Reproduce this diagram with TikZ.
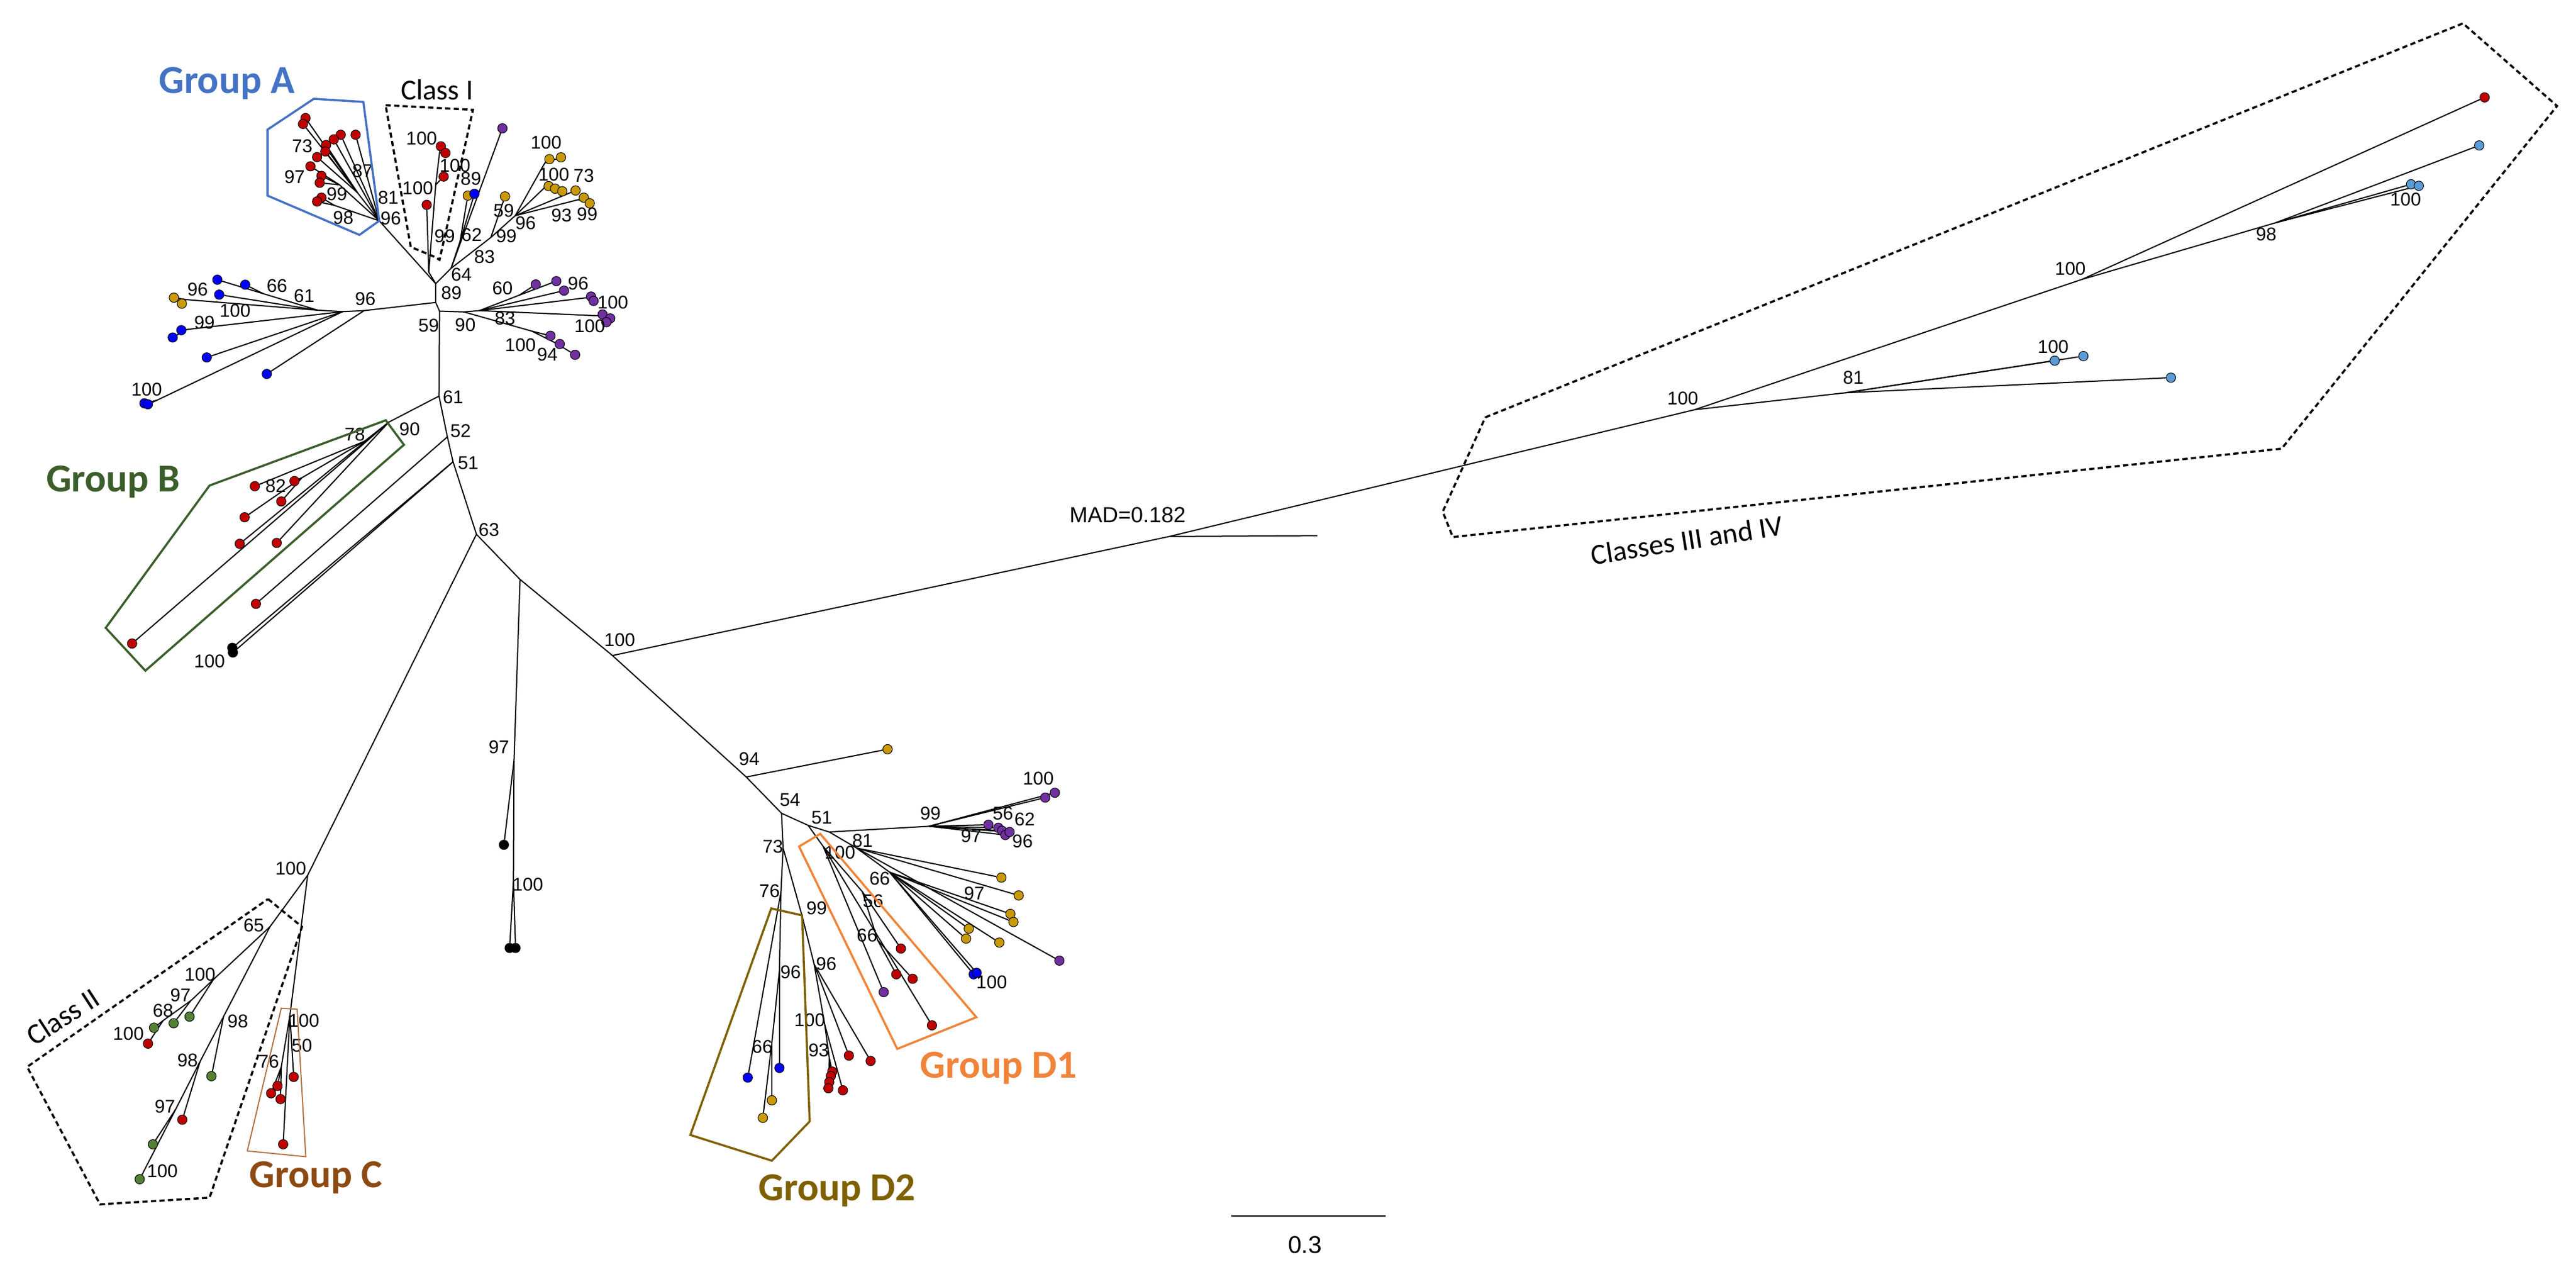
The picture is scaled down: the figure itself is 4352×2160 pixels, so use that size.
\documentclass[tikz,border=0pt]{standalone}
\usepackage{fontspec}
\setmainfont{Liberation Sans}
\newfontfamily\carlfont{Carlito}
\usetikzlibrary{backgrounds}
\definecolor{cred}{HTML}{C00000}
\definecolor{cblue}{HTML}{0000FF}
\definecolor{cgold}{HTML}{C99A06}
\definecolor{cpurp}{HTML}{7030A0}
\definecolor{cgreen}{HTML}{548235}
\definecolor{clblue}{HTML}{5B9BD5}
\definecolor{cblack}{HTML}{000000}
\definecolor{grpA}{HTML}{4472C4}
\definecolor{grpB}{HTML}{3B5E2B}
\definecolor{grpC}{HTML}{8C4A12}
\definecolor{grpCl}{HTML}{B5703E}
\definecolor{grpD1}{HTML}{F0843A}
\definecolor{grpD2}{HTML}{7F6000}
\tikzset{
  tree/.style={line width=0.5pt,black},
  dot/.style={circle,draw=black,line width=0.25pt,inner sep=0pt,minimum size=4pt,fill=#1},
  lbl/.style={font=\fontsize{7.8}{8}\selectfont,inner sep=0pt},
  grp/.style={font=\carlfont\bfseries\fontsize{16.75}{17}\selectfont,text=#1,inner sep=0pt},
  cls/.style={font=\carlfont\fontsize{12.25}{13}\selectfont,inner sep=0pt},
  hull/.style={line width=0.9pt,draw=#1,line join=miter},
  dhull/.style={line width=0.9pt,draw=black,dash pattern=on 2.2pt off 1.4pt}
}
\begin{document}
\begin{tikzpicture}[x=0.25pt,y=-0.25pt]
\useasboundingbox (0,0) rectangle (4352,2160);
% internal nodes
\foreach \n/\x/\y in {N89/736.1/479.1, Nleft/736.1/510.8, Nlow/742.6/525.5,
  gA/640.7/372.9, a1/603.8/325.2, a2/573.5/312.1, a3/564.8/346.8,
  c0/724.4/459.6, c3/736.1/312.1, c2/742.6/257.9,
  n64/762.1/453.1, n62/777.3/407.5, y0/829.3/401, y1/870.5/364.2,
  ya/920.4/275.3, yb/920.4/316.5, yc/976.8/337.3,
  b96/615.2/524.6, b61a/578.9/526.3, b61/536.8/523.9, b66/444.9/496,
  b100/265/676, b99/314.8/556.6, y96/314.8/506,
  p0/783.8/526.8, p1/809.8/524.6, p2/898.7/559.3, p3/937.8/578.9,
  p4/877/498.6, p5/989.8/503, p6/1011.5/533.3,
  n61/741.7/668.9, n52/755.8/737.8, n51b/765.4/779.9, n63/804.9/902.3,
  n90/656.9/712.9, n78/615.5/745.4, n82/510.2/806.7,
  n1/878.6/978.6, k97/868.4/1284.7, k100/867.4/1489,
  n100/1034.7/1107.1, madn/1975.5/906, madend/2225.5/904.6,
  root3/2862.7/692, n100r/3517/472, n98/3844.3/376.3, n81r/3118/663.3,
  n100c/519.8/1478.1, n65/456/1565.2, ca/360.4/1654.4, cb/322.1/1690.2,
  cc/275.5/1723.6, cd/377.6/1716.9, ce/338/1792.8, cf/297/1873,
  gC/489.8/1714.7, g76/475.2/1801.8,
  n94/1260.7/1312.2, n54/1320.4/1373.5, n51d/1365.3/1393.9, q/1401/1405.1,
  n99p/1569.4/1395.4, n81/1447/1432.1, n66/1503/1473,
  d100/1390.8/1429.6, n56/1457/1506, n66b/1482.7/1587.8,
  n73/1323/1432.1, n76/1319.4/1506.1, n96c/1316.8/1638.8, n66c/1304/1761.2,
  n99d/1355.1/1546.9, n96b/1375.5/1628.6, n100d/1393.4/1730.6, n93/1401/1786.7}
  \coordinate (\n) at (\x,\y);
% leaves
\foreach \n/\x/\y/\c in {
  A1/516.2/199.4/cred, A2/511.9/209.4/cred, A3/575.6/227.6/cred, A4/563.9/235.4/cred,
  A5/550.9/244.9/cred, A6/549.6/255.8/cred, A7/535.7/265.3/cred, A8/524.5/280.9/cred,
  A9/543.1/297/cred, A10/540.1/308.7/cred, A11/543.1/333.8/cred, A12/535.7/340.3/cred,
  A13/600.8/227.6/cred,
  C1/720.9/346/cred, C2/744.8/247.1/cred, C3/752.6/258.4/cred, C4/749.5/298.3/cred,
  Y1/790.3/330.4/cgold, B1/801.6/327.3/cblue, P1/848.8/216.7/cpurp,
  Y2/853.2/331.7/cgold, Y3/928.2/268.8/cgold, Y4/947.7/265.7/cgold, Y5/926.9/314.3/cgold,
  Y6/937.8/318.6/cgold, Y7/949.9/323/cgold, Y8/972.4/321.7/cgold, Y9/986.3/333.8/cgold,
  Y10/996.3/343.4/cgold,
  B2/450.7/631.6/cblue, B3/349.3/603.7/cblue, B5/244/681.1/cblue, B4/249.8/682.8/cblue,
  B6/306.4/557.6/cblue, B7/291.8/570/cblue, B8/414.3/480.8/cblue, B9/367.2/472.4/cblue,
  B10/370.3/497.6/cblue, Y11/293.8/502.7/cgold, Y12/307.2/512.8/cgold,
  P2/930/567.1/cpurp, P3/945.6/581/cpurp, P4/971.6/599.2/cpurp, P5/905.2/480.4/cpurp,
  P6/939.9/474.8/cpurp, P7/952.9/490.8/cpurp, P8/998.5/500.8/cpurp, P9/1002.8/508.2/cpurp,
  P10/1018/531.1/cpurp, P11/1031/537.7/cpurp, P12/1024.5/544.2/cpurp,
  R1/430.5/821.2/cred, R2/497.5/812.4/cred, R3/475.2/846.8/cred, R4/413.3/873.6/cred,
  R5/405/918.4/cred, R6/467.5/916.9/cred, R7/223.2/1086.8/cred, R8/432.4/1019.8/cred,
  K1/392.5/1094/cblack, K2/393.5/1102/cblack,
  K3/851.3/1426.7/cblack, K4/861/1601/cblack, K5/871/1601/cblack,
  G1/320.2/1716.9/cgreen, G2/293.4/1728.1/cgreen, G3/260.2/1735.7/cgreen, R9/250/1762.5/cred,
  G4/357.2/1817.4/cgreen, R10/308/1891/cred, G5/258.3/1932.5/cgreen, G6/236/1991.5/cgreen,
  R11/496.2/1818.7/cred, R12/468.8/1833.9/cred, R13/458/1846.4/cred, R14/473.9/1856.2/cred,
  R15/478.4/1932.5/cred,
  Y13/1499.5/1265.3/cgold,
  P13/1765.8/1347/cpurp, P14/1782.1/1338.8/cpurp, P15/1669.9/1392.9/cpurp,
  P16/1686.7/1398/cpurp, P17/1692.9/1403/cpurp, P18/1698.5/1410.2/cpurp, P19/1705.6/1405.1/cpurp,
  Y14/1691.8/1482.1/cgold, Y15/1721/1512.2/cgold, P20/1789.8/1622.4/cpurp,
  Y16/1707/1543.4/cgold, Y17/1712.2/1557.1/cgold, Y18/1688.3/1591.8/cgold,
  Y19/1636.7/1568.4/cgold, Y20/1632.1/1585.2/cgold, B11/1644.9/1645.4/cblue, B12/1650/1642.9/cblue,
  P21/1492.9/1675.5/cpurp, R16/1522/1602/cred, R17/1514.3/1645.4/cred, R18/1541.8/1653/cred,
  R19/1574.5/1731.6/cred,
  B13/1263.3/1819.9/cblue, B14/1316.8/1803.6/cblue, Y21/1304/1858.2/cgold, Y22/1288.8/1887.8/cgold,
  R20/1434.2/1782.7/cred, R21/1470.9/1791.8/cred, R22/1406.1/1809.7/cred, R23/1403.6/1817.3/cred,
  R24/1401/1827.5/cred, R25/1399.5/1837.8/cred, R26/1424/1841.3/cred,
  R27/4197.6/164.5/cred, L1/4188.5/245.6/clblue, L2/4073.3/311.2/clblue, L3/4086.4/313.8/clblue,
  L4/3471.3/609.1/clblue, L5/3519.7/601.4/clblue, L6/3667.6/637.8/clblue}
  \node[dot=\c] (\n) at (\x,\y) {};
% branches
\begin{scope}[on background layer]
\foreach \a/\b in {N89/Nleft, Nleft/Nlow, N89/gA, N89/c0, N89/n64,
  gA/A13, gA/A3, gA/A4, gA/a1, gA/a2, gA/a3, a1/A1, a1/A2, a1/A5, a1/A6, a1/A7,
  a2/A8, a2/A9, a2/A10, a3/A11, a3/A12,
  c0/C1, c0/c3, c3/C4, c3/c2, c2/C2, c2/C3,
  n64/n62, n64/P1, n64/y0, n62/Y1, n62/B1,
  y0/Y2, y0/y1, y1/ya, y1/yb, y1/Y8, y1/yc, ya/Y3, ya/Y4, yb/Y5, yb/Y6, yb/Y7, yc/Y9, yc/Y10,
  Nleft/b96, b96/B2, b96/b61a, b61a/B3, b61a/b100, b61a/b99, b61a/b61, b100/B4, b100/B5,
  b99/B6, b99/B7, b61/b66, b61/B10, b61/y96, b66/B8, b66/B9, y96/Y11, y96/Y12,
  Nlow/p0, p0/p1, p0/p2, p2/P2, p2/p3, p3/P3, p3/P4, p1/p4, p1/P7, p1/p5, p1/p6,
  p4/P5, p4/P6, p5/P8, p5/P9, p6/P10, p6/P11, p6/P12,
  Nlow/n61, n61/n52, n52/n51b, n51b/n63,
  n61/n90, n90/n78, n90/R5, n90/R6, n90/R7, n78/R1, n78/n82, n82/R2, n82/R3, n82/R4,
  n52/R8, n51b/K1, n51b/K2,
  n63/n1, n1/n100, n100/n94, n94/n54, n1/k97, k97/K3, k97/k100, k100/K4, k100/K5,
  n100/madn, madn/madend, madn/root3,
  root3/n100r, root3/n81r, n100r/R27, n100r/n98, n98/L1, n98/L2, n98/L3,
  n81r/L4, n81r/L5, n81r/L6,
  n63/n100c, n100c/n65, n100c/gC, n65/ca, n65/cd, ca/G1, ca/cb, cb/G2, cb/cc, cc/G3, cc/R9,
  cd/G4, cd/ce, ce/R10, ce/cf, cf/G5, cf/G6,
  gC/R11, gC/R15, gC/g76, g76/R12, g76/R13, g76/R14,
  n94/Y13, n54/n51d, n54/n73, n51d/q, n51d/d100, q/n99p, q/n81,
  n99p/P13, n99p/P14, n99p/P15, n99p/P16, n99p/P17, n99p/P18, n99p/P19,
  n81/Y14, n81/Y15, n81/P20, n81/n66,
  n66/Y16, n66/Y17, n66/Y18, n66/Y19, n66/Y20, n66/B11, n66/B12,
  d100/P21, d100/n56, d100/R19, n56/R16, n56/n66b, n66b/R17, n66b/R18,
  n73/n76, n73/n99d, n76/B13, n76/n96c, n96c/B14, n96c/n66c, n66c/Y21, n66c/Y22,
  n99d/n96b, n96b/R20, n96b/R21, n96b/n100d, n100d/n93, n100d/R26,
  n93/R22, n93/R23, n93/R24, n93/R25}
  \draw[tree] (\a) -- (\b);
\end{scope}
% support values
\foreach \x/\y/\t [count=\i] in {
  712.2/234.1/100, 768.6/279.6/100, 705.7/317.3/100, 751.3/398.9/99,
  779.5/463.9/64, 796.8/396.7/62, 795.5/301.3/89, 818.5/433.6/83, 851/355.5/59,
  855.4/398.9/99, 887.9/377.2/96, 922.6/240.6/100, 935.6/294.8/100, 986.3/297/73,
  948.6/364.2/93, 992/362/99,
  510.6/247.1/73, 497.6/299.1/97, 569.1/327.3/99, 580/367.7/98, 612.5/288.3/87,
  655.9/333.8/81, 660.2/368.5/96,
  617.1/504.4/96, 513.8/499.3/61, 467.9/482.5/66, 334/489.2/96, 397.1/524.6/100,
  345.4/544.8/99, 247.8/657.6/100,
  762.6/494.3/89, 724.3/549.8/59,
  786/548.5/90, 848.9/486.5/60, 976.8/479.1/96, 1035.3/510.8/100, 853.2/537.7/83,
  996.3/550.7/100, 879.2/583.2/100, 924.8/598.4/94,
  765.4/670.8/61, 692/724.4/90, 778.1/728.2/52, 790.9/781.8/51, 826/894.7/63,
  599.5/734/78, 465.6/821.2/82, 354/1116.6/100,
  1047/1080.6/100, 842.9/1261.7/97, 891.8/1493.9/100, 1265.8/1281.6/94,
  491.1/1467/100, 428.6/1562.9/65, 338/1645.5/100, 304.9/1681.2/97, 275.5/1707.1/68,
  216.9/1746/100, 401.8/1725/98, 317/1790.6/98, 278.7/1868.7/97, 274.3/1978.1/100,
  513.4/1723.6/100, 510.2/1766/50, 454.1/1792.8/76,
  1334.7/1350.5/54, 1388.3/1381.1/51, 1305.6/1429.6/73, 1300/1504.6/76, 1379.6/1534.2/99,
  1395.9/1627.5/96, 1335.7/1641.3/96, 1367.9/1723/100, 1383.2/1774/93, 1287.8/1767.3/66,
  1418.9/1439.8/100, 1457.1/1419.4/81, 1486.2/1484.2/66, 1475/1521.4/56, 1464.8/1580.1/66,
  1645.9/1508.7/97, 1675.5/1659.2/100, 1571.9/1373.5/99, 1754.1/1314.8/100,
  1694.4/1373.5/56, 1731.1/1383.7/62, 1640.8/1411.7/97, 1727.5/1420.4/96,
  2843/672.9/100, 3497.5/454.1/100, 3828.6/395.4/98, 4064.1/336.8/100, 3131/637.8/81,
  3468.7/585.5/100}
  \node[lbl] (lab\i) at (\x,\y) {\t};
% group outlines
\draw[hull=grpA] (452,218.9) -- (530.1,166.9) -- (613.8,172.1) -- (640.7,372.9) -- (607.3,396.7) -- (452,330.4) -- cycle;
\draw[dhull] (651.5,177.7) -- (799,185.5) -- (742.6,438.8) -- (733.9,433.6) -- (694,417.1) -- cycle;
\draw[hull=grpB] (354,820) -- (651.8,709.8) -- (682.4,751.2) -- (245.6,1132.7) -- (178.6,1060.4) -- cycle;
\draw[dhull] (452.8,1518.3) -- (510.2,1565.2) -- (354,2022.7) -- (169,2033.9) -- (45.9,1801.8) -- cycle;
\draw[line width=0.5pt,draw=grpCl] (475.2,1702.7) -- (502,1704.4) -- (516.6,1953.5) -- (417.8,1943.7) -- cycle;
\draw[hull=grpD1] (1350,1429.6) -- (1385.7,1408.2) -- (1649.5,1717.9) -- (1515.8,1771.4) -- cycle;
\draw[hull=grpD2] (1303,1534.2) -- (1355.1,1545.9) -- (1367.9,1893.9) -- (1304,1960.2) -- (1166.3,1916.8) -- cycle;
\draw[dhull] (2509.4,704.8) -- (4161,39.5) -- (4320,179) -- (3854.7,757.7) -- (2454.4,907) -- (2437.4,864.2) -- cycle;
% titles
\node[grp=grpA] (tA) at (383,141) {Group A};
\node[cls] (tI) at (738.3,151.7) {Class I};
\node[grp=grpB] (tB) at (191.3,814.3) {Group B};
\node[cls,rotate=33] (tII) at (106,1717) {Class II};
\node[grp=grpC] (tC) at (534,1989) {Group C};
\node[grp=grpD1] (tD1) at (1687,1804) {Group D1};
\node[grp=grpD2] (tD2) at (1414,2011) {Group D2};
\node[cls,rotate=9] (tIII) at (2849.7,912) {Classes III and IV};
\node[font=\fontsize{9.25}{10}\selectfont,inner sep=0pt] (mad) at (1905,870) {MAD=0.182};
% scale bar
\coordinate (s1) at (2079.5,2053.5);
\coordinate (s2) at (2341.1,2053.5);
\draw[line width=0.7pt,black!75] (s1) -- (s2);
\node[font=\fontsize{10.25}{11}\selectfont,inner sep=0pt] (sc) at (2204.5,2102.5) {0.3};
\end{tikzpicture}
\end{document}
